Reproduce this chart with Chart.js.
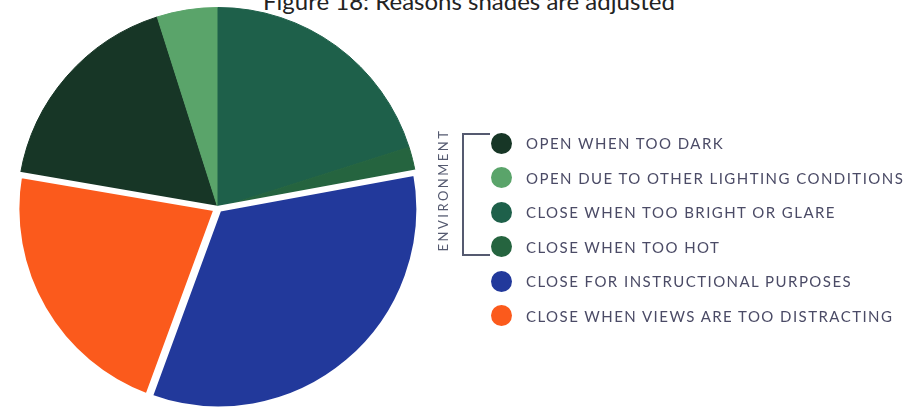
<!DOCTYPE html>
<html>
<head>
<meta charset="utf-8">
<script src="https://cdn.jsdelivr.net/npm/chart.js@4"></script>
<style>
  body { margin: 0; background: #fff; width: 910px; height: 415px; overflow: hidden; position: relative; font-family: Lato, "Open Sans", sans-serif; }
  #title { position: absolute; left: 0; width: 938px; top: -14px; text-align: center; font-size: 24px; color: #222; }
  #pieBox { position: absolute; left: 0; top: 2px; width: 436px; height: 412px; }
  #legend { position: absolute; left: 491px; top: 126px; }
  .row { height: 34.5px; display: flex; align-items: center; }
  .dot { width: 21px; height: 21px; border-radius: 50%; margin-right: 14px; }
  .lbl { font-size: 15px; color: #4b4b66; letter-spacing: 1.45px; }
  #bracket { position: absolute; left: 462px; top: 133px; width: 28px; height: 123px; border: 2px solid #555a70; border-right: none; box-sizing: border-box; }
  #env { position: absolute; left: 443px; top: 190px; transform: translate(-50%, -50%) rotate(-90deg); font-size: 13px; color: #555a70; letter-spacing: 2.5px; white-space: nowrap; }
</style>
</head>
<body>
<div id="title">Figure 18: Reasons shades are adjusted</div>
<div id="pieBox"><canvas id="pie"></canvas></div>
<div id="bracket"></div>
<div id="env">ENVIRONMENT</div>
<div id="legend"></div>
<script>
var labels = [
  'OPEN WHEN TOO DARK',
  'OPEN DUE TO OTHER LIGHTING CONDITIONS',
  'CLOSE WHEN TOO BRIGHT OR GLARE',
  'CLOSE WHEN TOO HOT',
  'CLOSE FOR INSTRUCTIONAL PURPOSES',
  'CLOSE WHEN VIEWS ARE TOO DISTRACTING'
];
// share of responses, percent
var shares = [17.4, 4.9, 20.1, 2.0, 33.5, 22.1];
var colors = ['#173626', '#5aa46a', '#1e604a', '#25643f', '#22399b', '#fb5a1c'];

// start so that the "close when too bright" slice begins straight up
var before = shares[0] + shares[1];
var total = shares.reduce(function(a, b){ return a + b; }, 0);

// legend
var legend = document.getElementById('legend');
labels.forEach(function(txt, i){
    var row = document.createElement('div');
    row.className = 'row';
    row.innerHTML = '<div class="dot" style="background:' + colors[i] + '"></div><div class="lbl">' + txt + '</div>';
    legend.appendChild(row);
});

var ctx = document.getElementById('pie');
var pie = new Chart(ctx, {
    type: 'pie',
    data: {
        labels: labels,
        datasets: [{
            data: shares,
            backgroundColor: colors,
            // greens stay joined, the last two slices are pulled out with a white edge
            borderColor: [colors[0], colors[1], colors[2], colors[3], '#fff', '#fff'],
            borderWidth: [1, 1, 1, 1, 6, 6],
            offset: [0, 0, 0, 0, 4, 5],
            hoverOffset: 0
        }]
    },
    options: {
        responsive: true,
        maintainAspectRatio: false,
        animation: false,
        rotation: -before / total * 360,
        layout: { padding: 0 },
        plugins: {
            legend: { display: false },
            tooltip: { enabled: false }
        }
    }
});
</script>
</body>
</html>
